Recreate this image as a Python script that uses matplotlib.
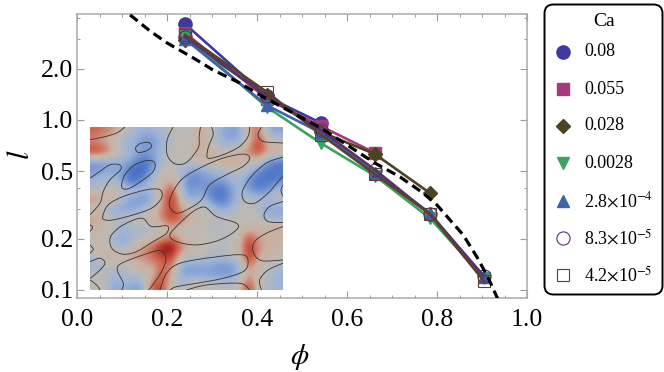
import matplotlib
matplotlib.use("Agg")
import matplotlib.pyplot as plt
import numpy as np
from matplotlib.colors import LinearSegmentedColormap
from matplotlib.patches import FancyBboxPatch, PathPatch
from matplotlib.path import Path
from matplotlib.ticker import FixedLocator, FixedFormatter, NullFormatter

plt.rcParams['font.family'] = ['Liberation Serif', 'DejaVu Serif']
plt.rcParams['mathtext.fontset'] = 'stix'

# Curves
phi_all = [0.24, 0.422, 0.542, 0.662, 0.784, 0.904]
l_008 = [3.67, 1.37, 0.96]
l_0055 = [3.25, 1.33, 0.92, 0.64]
l_0028 = [2.96, 1.40, 0.85, 0.63, 0.372]
l_00028 = [3.12, 1.19, 0.73, 0.47, 0.265, 0.118]
l_28e4 = [2.99, 1.22, 0.84, 0.49, 0.284, 0.119]
l_83e5 = [3.08, 1.38, 0.87, 0.51, 0.28, 0.121]
l_42e5 = [3.16, 1.46, 0.82, 0.48, 0.28, 0.113]

series = [l_008, l_0055, l_0028, l_00028, l_28e4, l_83e5, l_42e5]
labels = ['0.08', '0.055', '0.028', '0.0028',
          r'2.8$\times$10$^{-4}$', r'8.3$\times$10$^{-5}$', r'4.2$\times$10$^{-5}$']
colors = ['#3d3a9f', '#a23a7c', '#4c4322', '#3aa35c', '#3c63ab', '#5c2f70', '#5a4030']
markers = ['o', 's', 'D', 'v', '^', 'o', 's']
sizes = [9.5, 8, 7, 8.5, 8.5, 9.5, 8.5]
filled = [True, True, True, True, True, False, False]

# dashed curve
phi_fit = [0.118, 0.162, 0.20, 0.258, 0.302, 0.362, 0.413, 0.542, 0.662, 0.718, 0.769, 0.80, 0.829, 0.858, 0.889, 0.913, 0.936]
l_fit = [4.15, 3.34, 2.84, 2.32, 1.97, 1.65, 1.37, 0.897, 0.558, 0.462, 0.372, 0.316, 0.258, 0.211, 0.156, 0.119, 0.0875]

# inset colour field, -9 blue .. 9 red, read on a coarse grid
field = [
    [5, 4, 3, 0, -1, -2, -2, -1, 0, 0, -1, 3, 0, -2, -3, -3, 2, 5, -3, -3],
    [3, 2, 0, -2, -2, -4, -4, -2, -1, 1, 0, 3, 0, -2, -3, -2, 1, 7, 1, 0],
    [7, 6, 2, -1, -2, -3, -3, -1, 0, 0, 0, 3, 1, 0, 0, 2, 4, 7, 2, 3],
    [-3, -3, -2, -2, -3, -6, -4, -1, 0, 0, 0, 1, 2, 3, 3, 2, 0, 1, -3, -5],
    [-4, -3, -3, -3, -7, -7, -3, 0, 0, -1, -3, -3, -2, -1, -1, 0, -1, -4, -6, -6],
    [-2, -1, -1, -4, -7, -4, -1, 1, 2, -2, -5, -4, -3, -3, -2, -1, -4, -6, -6, -5],
    [-1, -1, 0, 0, -1, -1, -1, 2, 6, -2, -4, -3, -5, -6, -4, -1, -4, -5, -4, -1],
    [4, 2, 2, -2, -3, -4, -3, 3, 8, 0, -3, -1, -4, -6, -4, -1, 0, -1, -1, 0],
    [0, -1, -3, -3, -3, -2, 1, 3, 7, 2, 1, 0, 0, -3, -2, 0, 0, -1, -3, -3],
    [3, 1, -1, 0, 0, 1, 1, 4, 7, 5, 2, 0, 0, 0, 0, 0, 0, 0, -2, -2],
    [2, 1, 0, -2, -1, -1, -1, 0, 2, 0, 0, 1, -1, -1, 0, 0, 1, 1, 2, 2],
    [0, 0, -2, -3, -1, -1, 0, 2, 4, 1, 0, 0, 0, 0, -1, 1, 6, 2, 2, 2],
    [1, 1, -1, -2, 0, 3, 5, 9, 9, 4, 2, 0, 0, -1, 0, 1, 8, 3, 2, 1],
    [-1, 2, 1, 2, 4, 3, 5, 6, 7, 0, 0, 0, -1, -1, 0, 0, 8, 2, 1, 0],
    [-2, -1, 0, -1, 0, 2, 2, 5, 4, -3, -3, -3, -3, -4, -4, -2, 4, 1, 0, -1],
    [0, 0, -2, -1, -1, 0, 1, 7, 1, -3, -3, -3, -3, -3, -3, -2, 3, 0, -1, -2],
    [0, 0, -3, -2, -3, -3, 6, 6, 0, -1, 1, 1, 0, 0, -1, 1, 7, 0, -1, -2],
]

# inset contour lines, traced in crop coordinates
contours = [
    [(30, 60), (70, 52), (110, 40), (135, 22)],
    [(167, 85), (180, 72), (205, 68), (215, 80), (200, 93), (175, 98), (167, 85)],
    [(30, 175), (60, 155), (90, 135), (118, 135), (122, 150), (90, 180), (70, 215), (60, 250), (30, 285)],
    [(125, 195), (135, 165), (165, 135), (205, 122), (225, 130), (220, 155), (190, 180), (150, 205), (130, 207), (125, 195)],
    [(280, 22), (262, 60), (262, 105), (285, 132), (320, 128), (355, 85), (358, 50), (362, 22)],
    [(395, 22), (400, 45), (385, 85), (385, 115), (430, 105), (480, 80), (505, 50), (510, 22)],
    [(545, 22), (535, 45), (550, 65), (610, 70)],
    [(268, 255), (280, 215), (310, 175), (370, 140), (430, 115), (490, 103), (510, 115), (490, 140), (440, 165), (390, 195), (365, 240), (330, 265), (290, 280), (268, 255)],
    [(610, 112), (560, 130), (515, 170), (488, 215), (495, 245), (525, 250), (565, 220), (600, 180), (610, 170)],
    [(610, 245), (570, 260), (553, 285), (565, 305), (610, 308)],
    [(610, 195), (604, 212), (610, 230)],
    [(68, 290), (85, 255), (130, 230), (200, 210), (240, 210), (245, 235), (215, 265), (160, 285), (100, 300), (75, 300), (68, 290)],
    [(90, 370), (95, 345), (130, 315), (185, 295), (215, 320), (262, 318), (260, 340), (220, 365), (170, 395), (130, 403), (100, 390), (90, 370)],
    [(270, 345), (300, 310), (340, 275), (375, 262), (410, 290), (470, 310), (470, 330), (420, 360), (350, 375), (290, 365), (270, 345)],
    [(610, 320), (560, 340), (525, 365), (520, 395), (545, 422), (610, 420)],
    [(30, 315), (38, 322), (30, 335)],
    [(30, 375), (40, 388), (30, 400)],
    [(30, 425), (60, 415), (75, 430), (55, 455), (30, 475)],
    [(125, 510), (130, 490), (112, 450), (125, 430), (190, 405), (240, 392), (258, 415), (245, 455), (215, 500), (205, 510)],
    [(240, 510), (260, 460), (300, 430), (400, 412), (490, 405), (505, 430), (490, 455), (430, 475), (350, 490), (290, 500), (270, 510)],
    [(320, 510), (380, 495), (480, 490), (510, 510)],
    [(545, 510), (540, 480), (565, 450), (610, 430)],
    [(30, 480), (50, 495), (60, 510)],
]


def smooth_path(pts):
    # catmull-rom through the traced points, as bezier segments
    p = np.array(pts, dtype=float)
    closed = np.allclose(p[0], p[-1])
    if closed:
        q = np.vstack([p[-2], p, p[1]])
    else:
        q = np.vstack([p[0], p, p[-1]])
    verts = [q[1]]
    codes = [Path.MOVETO]
    for i in range(1, len(q) - 2):
        verts += [q[i] + (q[i + 1] - q[i - 1]) / 6, q[i + 1] - (q[i + 2] - q[i]) / 6, q[i + 1]]
        codes += [Path.CURVE4] * 3
    return Path(verts, codes)


fig = plt.figure(figsize=(6.64, 3.72), dpi=100)
ax = fig.add_axes([77 / 664, (372 - 298) / 372, 450 / 664, 284 / 372])

for vals, lab, c, m, s, f in zip(series, labels, colors, markers, sizes, filled):
    ax.plot(phi_all[:len(vals)], vals, color=c, lw=1.9, marker=m, ms=s,
            mfc=c if f else 'none', mec=c, mew=1.0 if f else 0.8, zorder=3)
ax.plot(phi_fit, l_fit, color='k', lw=2.3, dashes=(3.0, 1.7), zorder=6)

ax.set_yscale('log')
ax.set_xlim(0, 1.0)
ax.set_ylim(0.0897, 4.2)
ax.set_xticks([0, 0.2, 0.4, 0.6, 0.8, 1.0])
ax.set_xticklabels(['0.0', '0.2', '0.4', '0.6', '0.8', '1.0'])
ax.set_xticks(np.arange(0, 1.001, 0.05), minor=True)
ax.yaxis.set_major_locator(FixedLocator([0.1, 0.2, 0.5, 1.0, 2.0]))
ax.yaxis.set_major_formatter(FixedFormatter(['0.1', '0.2', '0.5', '1.0', '2.0']))
ax.yaxis.set_minor_locator(FixedLocator([0.3, 0.4, 3.0, 4.0]))
ax.yaxis.set_minor_formatter(NullFormatter())
ax.tick_params(which='major', direction='in', length=5, width=0.8, color='#999999',
               labelsize=18.5, top=True, right=True, pad=3, labelcolor='k')
ax.tick_params(which='minor', direction='in', length=2.5, width=0.7, color='#999999',
               top=True, right=True)
ax.tick_params(axis='x', which='major', pad=8)
for sp in ax.spines.values():
    sp.set_color('#aaaaaa')
    sp.set_linewidth(1.1)
ax.set_xlabel(r'$\phi$', fontsize=21)
ax.set_ylabel(r'$l$', fontsize=22)
ax.xaxis.set_label_coords((300 - 77) / 450, (298 - 342) / 284)
ax.yaxis.set_label_coords((36 - 77) / 450, (298 - 155) / 284)

# inset
cw = LinearSegmentedColormap.from_list('cw', [
    (0.0, '#2d4fb5'), (0.22, '#5a80cc'), (0.39, '#9db3d8'), (0.5, '#bebab4'),
    (0.61, '#cbb0a0'), (0.78, '#d0614a'), (1.0, '#8a0508')])
inset = fig.add_axes([90 / 664, (372 - 290) / 372, 193 / 664, 163 / 372], zorder=2)
inset.imshow(field, cmap=cw, vmin=-9, vmax=9, interpolation='bicubic', aspect='auto',
             extent=[30, 610, 510, 22])
for pts in contours:
    inset.add_patch(PathPatch(smooth_path(pts), fc='none', ec='#333333', lw=0.6))
inset.set_xlim(30, 610)
inset.set_ylim(510, 22)
inset.axis('off')

# legend box in pixel coordinates
over = fig.add_axes([0, 0, 1, 1], zorder=5)
over.set_xlim(0, 664)
over.set_ylim(372, 0)
over.axis('off')
over.add_patch(FancyBboxPatch((544.5, 4.5), 118, 290, boxstyle='round,pad=0,rounding_size=9',
                              fc='white', ec='k', lw=1.4))
over.text(604, 22, 'Ca', ha='center', va='center', fontsize=14)
rows = [52, 89, 126, 163, 201, 238, 275]
for y, lab, c, m, s, f in zip(rows, labels, colors, markers, sizes, filled):
    over.plot([563], [y], marker=m, ms=s, color=c, mfc=c if f else 'none', mec=c,
              mew=1.0 if f else 0.8, ls='none')
    over.text(584, y, lab, ha='left', va='center', fontsize=13)

fig.savefig('out.png', dpi=100)
